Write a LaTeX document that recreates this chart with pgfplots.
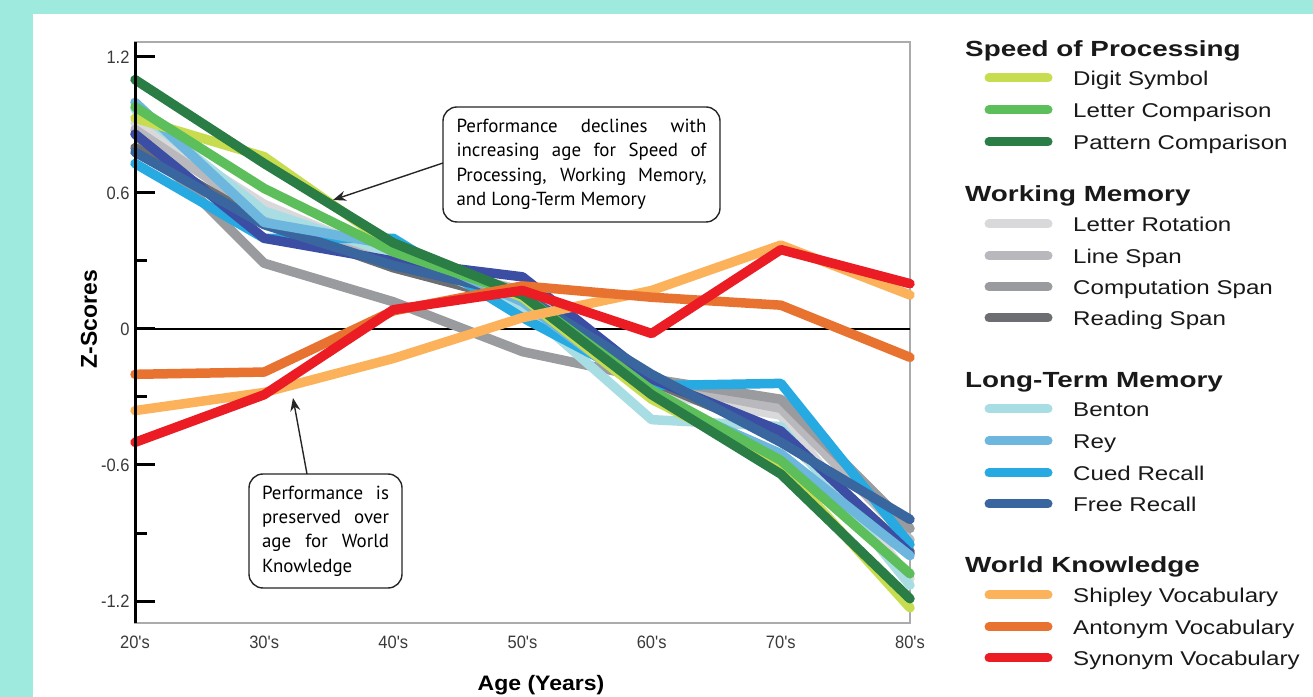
\documentclass[border=0pt]{standalone}
\usepackage{pgfplots}
\pgfplotsset{compat=1.18}
\usetikzlibrary{arrows.meta}
\usepackage{fontspec}
\setmainfont{Liberation Sans}
\newfontfamily\legfont[FakeStretch=1.21]{Liberation Sans}
\newfontfamily\headfont[FakeStretch=1.27]{Liberation Sans}
\newfontfamily\agefont[FakeStretch=1.1]{Liberation Sans}
\newfontfamily\tickfont[FakeStretch=0.92]{Liberation Sans}
\newfontfamily\notefont{PT Sans}

\definecolor{bgteal}{HTML}{9EEADF}
\definecolor{framegray}{HTML}{ABABAB}
\definecolor{tickgray}{HTML}{3A3A3A}
\definecolor{cdigit}{HTML}{C8DC50}
\definecolor{clettercomp}{HTML}{5CBF5C}
\definecolor{cpattern}{HTML}{2A7D45}
\definecolor{cletterrot}{HTML}{D9D9DB}
\definecolor{clinespan}{HTML}{B9B9BD}
\definecolor{ccompspan}{HTML}{9A9B9F}
\definecolor{creadspan}{HTML}{6D6E71}
\definecolor{cbenton}{HTML}{A9DDE4}
\definecolor{crey}{HTML}{6DB6DE}
\definecolor{ccued}{HTML}{26AAE1}
\definecolor{cfreerec}{HTML}{3A66A0}
\definecolor{cindigo}{HTML}{3B4EA3}
\definecolor{cshipley}{HTML}{FBB25B}
\definecolor{cantonym}{HTML}{E87230}
\definecolor{csynonym}{HTML}{EC1C24}

% legend entry: colour, swatch y, text
\newcommand\legentry[3]{%
  \draw[#1, line width=9bp, line cap=round] (989bp,#2bp) -- (1048bp,#2bp);
  \node[anchor=base west, inner sep=0pt, text=black!90]
    at (1073bp,#2bp-7.5bp) {\legfont\fontsize{20}{20}\selectfont #3};}
\newcommand\leghead[2]{%
  \node[anchor=base west, inner sep=0pt, text=black!90]
    at (965bp,#1bp) {\headfont\bfseries\fontsize{22}{22}\selectfont #2};}

\begin{document}
\begin{tikzpicture}
\path[use as bounding box] (0,0) rectangle (1313bp,697bp);
\fill[bgteal] (0,0) rectangle (1313bp,697bp);
\fill[white] (33bp,0) rectangle (1313bp,683bp);

\begin{axis}[
    at={(135bp,74bp)}, anchor=south west,
    scale only axis, width=775bp, height=581bp,
    xmin=0, xmax=6, ymin=-1.297, ymax=1.266,
    clip=false,
    axis line style={draw=framegray, line width=1.6bp},
    xtick={0,...,6},
    xticklabels={20's,30's,40's,50's,60's,70's,80's},
    x tick style={draw=none},
    xticklabel style={font=\tickfont\fontsize{18}{18}\selectfont, text=tickgray, yshift=-9bp},
    ytick={-1.2,-0.6,0,0.6,1.2},
    yticklabels={-1.2,-0.6,0,0.6,1.2},
    minor ytick={-0.9,-0.3,0.3},
    ytick pos=left,
    tick align=inside,
    major tick length=20bp, minor tick length=12bp,
    y tick style={black, line width=3bp},
    yticklabel style={font=\tickfont\fontsize{18}{18}\selectfont, text=tickgray, xshift=-2bp},
    every axis plot/.append style={line width=9.5bp, line cap=round, line join=round},
]
\draw[black, line width=2.5bp] (axis cs:0,0) -- (axis cs:6,0);

% Working Memory
\addplot[cletterrot] coordinates {(0,0.91)(1,0.55)(2,0.31)(3,0.17)(4,-0.28)(5,-0.38)(6,-1.10)};
\addplot[clinespan] coordinates {(0,0.88)(1,0.50)(2,0.30)(3,0.17)(4,-0.24)(5,-0.35)(6,-0.93)};
\addplot[ccompspan] coordinates {(0,0.86)(1,0.29)(2,0.12)(3,-0.10)(4,-0.22)(5,-0.31)(6,-0.88)};
\addplot[creadspan] coordinates {(0,0.80)(1,0.47)(2,0.27)(3,0.12)(4,-0.23)(5,-0.47)(6,-0.98)};
% Long-Term Memory
\addplot[cbenton] coordinates {(0,0.97)(1,0.52)(2,0.33)(3,0.10)(4,-0.40)(5,-0.43)(6,-1.13)};
\addplot[ccued] coordinates {(0,0.73)(1,0.40)(2,0.40)(3,0.05)(4,-0.25)(5,-0.24)(6,-0.95)};
\addplot[cindigo] coordinates {(0,0.86)(1,0.40)(2,0.30)(3,0.23)(4,-0.22)(5,-0.45)(6,-0.99)};
\addplot[cfreerec] coordinates {(0,0.78)(1,0.46)(2,0.28)(3,0.15)(4,-0.20)(5,-0.50)(6,-0.84)};
\addplot[crey] coordinates {(0,1.00)(1,0.47)(2,0.37)(3,0.12)(4,-0.30)(5,-0.55)(6,-1.00)};
% Speed of Processing
\addplot[cdigit] coordinates {(0,0.93)(1,0.76)(2,0.36)(3,0.14)(4,-0.31)(5,-0.60)(6,-1.23)};
\addplot[clettercomp] coordinates {(0,0.98)(1,0.62)(2,0.34)(3,0.15)(4,-0.27)(5,-0.58)(6,-1.08)};
\addplot[cpattern] coordinates {(0,1.10)(1,0.73)(2,0.38)(3,0.15)(4,-0.29)(5,-0.64)(6,-1.19)};
% World Knowledge
\addplot[cshipley] coordinates {(0,-0.36)(1,-0.28)(2,-0.13)(3,0.05)(4,0.17)(5,0.37)(6,0.15)};
\addplot[cantonym] coordinates {(0,-0.20)(1,-0.19)(2,0.08)(3,0.19)(4,0.14)(5,0.105)(6,-0.125)};
\addplot[csynonym] coordinates {(0,-0.50)(1,-0.29)(2,0.085)(3,0.17)(4,-0.02)(5,0.35)(6,0.20)};

\draw[black, line width=3bp] (rel axis cs:0,0) -- (rel axis cs:0,1);
\end{axis}

% axis titles
\node[rotate=90, inner sep=0pt] at (89bp,378bp)
  {\bfseries\fontsize{23}{23}\selectfont Z-Scores};
\node[anchor=base, inner sep=0pt] at (541bp,7bp)
  {\agefont\bfseries\fontsize{21}{21}\selectfont Age (Years)};

% annotations
\node[draw=black!85, line width=1.4bp, rounded corners=14bp, fill=white,
      minimum width=277bp, minimum height=115bp, inner sep=0pt]
  at (581.5bp,532.5bp)
  {\parbox{250bp}{\notefont\fontsize{19}{24.5}\selectfont\hyphenpenalty=10000\noindent
   Performance declines with\linebreak increasing age for Speed of\linebreak
   Processing, Working Memory,\linebreak and Long-Term Memory}};
\draw[black!85, line width=1.4bp, -{Stealth[length=13bp,width=10bp]}]
  (443bp,534bp) -- (333bp,497bp);

\node[draw=black!85, line width=1.4bp, rounded corners=14bp, fill=white,
      minimum width=153bp, minimum height=114bp, inner sep=0pt]
  at (325.5bp,166bp)
  {\parbox{127bp}{\notefont\fontsize{19}{24.5}\selectfont\hyphenpenalty=10000\noindent
   Performance is\linebreak preserved over\linebreak age for World\linebreak Knowledge}};
\draw[black!85, line width=1.4bp, -{Stealth[length=13bp,width=10bp]}]
  (307bp,223bp) -- (293bp,299bp);

% legend
\leghead{640}{Speed of Processing}
\legentry{cdigit}{619}{Digit Symbol}
\legentry{clettercomp}{587}{Letter Comparison}
\legentry{cpattern}{555}{Pattern Comparison}
\leghead{495}{Working Memory}
\legentry{cletterrot}{473}{Letter Rotation}
\legentry{clinespan}{441}{Line Span}
\legentry{ccompspan}{410}{Computation Span}
\legentry{creadspan}{379}{Reading Span}
\leghead{309}{Long-Term Memory}
\legentry{cbenton}{288}{Benton}
\legentry{crey}{256}{Rey}
\legentry{ccued}{224}{Cued Recall}
\legentry{cfreerec}{193}{Free Recall}
\leghead{124}{World Knowledge}
\legentry{cshipley}{102}{Shipley Vocabulary}
\legentry{cantonym}{70}{Antonym Vocabulary}
\legentry{csynonym}{39}{Synonym Vocabulary}
\end{tikzpicture}
\end{document}
